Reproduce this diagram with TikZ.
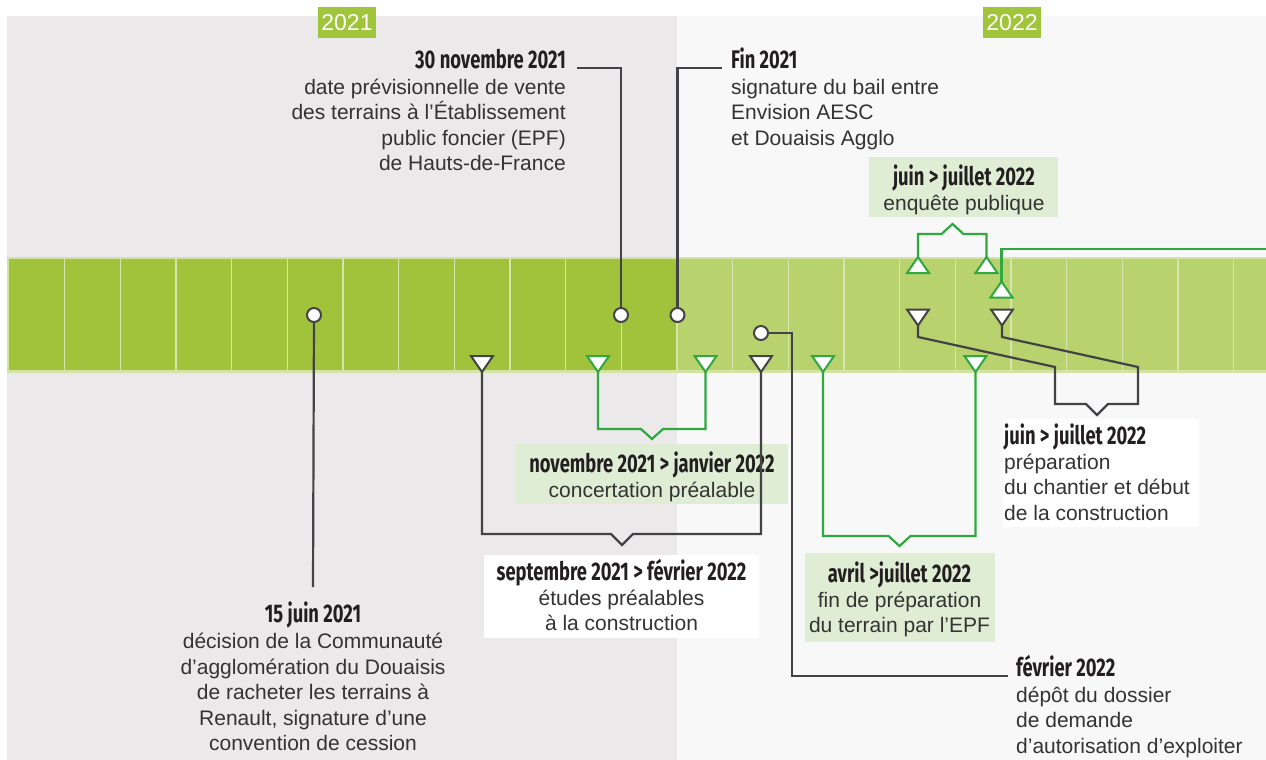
\documentclass[tikz,border=0pt]{standalone}
\usepackage{fontspec}
\setmainfont{Liberation Sans}
\newfontfamily\datefont{Fira Sans}[FakeStretch=0.72]
\usetikzlibrary{calc}

\definecolor{grayBg}{HTML}{EBE9EA}
\definecolor{lightBg}{HTML}{F8F8F8}
\definecolor{barEdge}{HTML}{D2E3A4}
\definecolor{barA}{HTML}{A0C33B}
\definecolor{barB}{HTML}{B8D26E}
\definecolor{sepCol}{HTML}{D6E6AA}
\definecolor{yearG}{HTML}{A0C43A}
\definecolor{lineD}{HTML}{434247}
\definecolor{lineG}{HTML}{2EA83F}
\definecolor{boxG}{HTML}{E0EDD5}
\definecolor{txtD}{HTML}{231F20}
\definecolor{txtB}{HTML}{333333}

\newcommand\fl{\rule{0pt}{20pt}}

\begin{document}
\begin{tikzpicture}[x=1pt,y=-1pt,
    dline/.style={draw=lineD, line width=2.2pt},
    gline/.style={draw=lineG, line width=2.2pt},
    dot/.style={circle, draw=lineD, line width=2pt, fill=white, minimum size=14pt, inner sep=0pt},
    sep/.style={draw=sepCol, line width=1.2pt},
    date/.style={font=\datefont\bfseries\fontsize{25.5}{26}\selectfont, text=txtD, inner sep=0pt},
    body/.style={font=\fontsize{21}{25.5}\selectfont, text=txtB, inner sep=0pt},
    year/.style={fill=yearG, text=white, font=\fontsize{23}{23}\selectfont, minimum width=58pt, minimum height=31pt, inner sep=0pt},
    gbox/.style={fill=boxG, inner sep=0pt},
    wbox/.style={fill=white, inner sep=0pt},
    tdown/.pic={\draw[draw=#1, line width=2pt, fill=white] (-11,-8) -- (11,-8) -- (0,8) -- cycle;},
    tup/.pic={\draw[draw=#1, line width=2pt, fill=white] (-11,8) -- (11,8) -- (0,-8) -- cycle;}]
    \useasboundingbox (0,0) rectangle (1266,760);
    % backgrounds of the two years
    \fill[white] (0,0) rectangle (1266,760);
    \fill[grayBg] (7,16) rectangle (677,760);
    \fill[lightBg] (677,16) rectangle (1266,760);
    \node[year] (y21) at (347,22.5) {2021};
    \node[year] (y22) at (1012,22.5) {2022};
    % the month bar
    \fill[barEdge] (7,257) rectangle (1266,373);
    \fill[barA] (9,259) rectangle (677,370);
    \fill[barB] (677,259) rectangle (1266,370);
    \foreach \i in {1,...,22}
        \draw[sep] (9+55.67*\i,259) -- (9+55.67*\i,370);
    \foreach \i in {3,6,9,15,18,21}
        \draw[sep, line width=2.6pt] (9+55.67*\i,259) -- (9+55.67*\i,370);

    % markers on the bar
    \node[dot] (c1) at (314,315) {};
    \node[dot] (c2) at (621,315) {};
    \node[dot] (c3) at (677.5,315) {};
    \node[dot] (c4) at (761,333) {};
    \coordinate (sd1) at (482,364);
    \coordinate (sd2) at (761,364);
    \coordinate (gd1) at (598,364);
    \coordinate (gd2) at (705.5,364);
    \coordinate (gd3) at (823,364);
    \coordinate (gd4) at (975.5,364);
    \coordinate (gu1) at (918,265);
    \coordinate (gu2) at (986.5,265);
    \coordinate (gu3) at (1001.5,289.5);
    \coordinate (dd1) at (918,317.5);
    \coordinate (dd2) at (1002,317.5);
    \coordinate (edge) at (1266,249);

    % label boxes
    \node[gbox, minimum width=272pt, minimum height=60pt] (bnov) at (652,474) {};
    \node[wbox, minimum width=275pt, minimum height=83pt] (bsep) at (621.5,596.5) {};
    \node[gbox, minimum width=190pt, minimum height=89pt] (bavr) at (900,597.5) {};
    \node[gbox, minimum width=189pt, minimum height=60pt] (benq) at (963.7,187) {};
    \node[wbox, minimum width=196pt, minimum height=108pt] (bjui) at (1101,473) {};

    % texts
    \node[date, anchor=base] (d1) at (313,622) {15 juin 2021};
    \node[body, anchor=north, align=center] (t1) at ($(d1.base)+(0,6.5)$) {\fl décision de la Communauté\\d’agglomération du Douaisis\\de racheter les terrains à\\Renault, signature d’une\\convention de cession};
    \node[date, anchor=base east] (d2) at (566,68) {30 novembre 2021};
    \node[body, anchor=north east, align=right] (t2) at ($(d2.base east)+(0,6)$) {\fl date prévisionnelle de vente\\des terrains à l’Établissement\\public foncier (EPF)\\de Hauts-de-France};
    \node[date, anchor=base west] (d3) at (731,68) {Fin 2021};
    \node[body, anchor=north west, align=left] (t3) at ($(d3.base west)+(0,6)$) {\fl signature du bail entre\\Envision AESC\\et Douaisis Agglo};
    \node[date, anchor=base] (d4) at (652,472) {novembre 2021 > janvier 2022};
    \node[body, anchor=north, align=center] (t4) at ($(d4.base)+(0,5)$) {\fl concertation préalable};
    \node[date, anchor=base] (d5) at (621.5,580) {septembre 2021 > février 2022};
    \node[body, anchor=north, align=center] (t5) at ($(d5.base)+(0,5)$) {\fl études préalables\\à la construction};
    \node[date, anchor=base] (d6) at (899.5,582) {avril >juillet 2022};
    \node[body, anchor=north, align=center] (t6) at ($(d6.base)+(0,5)$) {\fl fin de préparation\\du terrain par l’EPF};
    \node[date, anchor=base] (d7) at (964,185) {juin > juillet 2022};
    \node[body, anchor=north, align=center] (t7) at ($(d7.base)+(0,5)$) {\fl enquête publique};
    \node[date, anchor=base west] (d8) at (1004,444) {juin > juillet 2022};
    \node[body, anchor=north west, align=left] (t8) at ($(d8.base west)+(0,5)$) {\fl préparation\\du chantier et début\\de la construction};
    \node[date, anchor=base west] (d9) at (1016,676) {février 2022};
    \node[body, anchor=north west, align=left] (t9) at ($(d9.base west)+(0,6)$) {\fl dépôt du dossier\\de demande\\d’autorisation d’exploiter};

    % connectors
    \draw[dline] (c1) -- ($(d1.north)+(0,-14)$);
    \draw[dline] (c2) |- ($(d2.base east)+(11,0)$);
    \draw[dline] (c3) |- ($(d3.base west)+(-9,0)$);
    \draw[dline] (c4) -| (792,676) -- ($(d9.base west)+(-8,0)$);
    \coordinate (nsep) at (622,534);
    \draw[dline] (sd1) |- ($(nsep)+(-11,0)$) -- ++(11,11) -- ++(11,-11) -| (sd2);
    \coordinate (nnov) at (652,429);
    \draw[gline] (gd1) |- ($(nnov)+(-11,0)$) -- ++(11,10) -- ++(11,-10) -| (gd2);
    \coordinate (navr) at (899.5,536);
    \draw[gline] (gd3) |- ($(navr)+(-11,0)$) -- ++(11,10) -- ++(11,-10) -| (gd4);
    \coordinate (nenq) at (952.5,234);
    \draw[gline] (gu1) |- ($(nenq)+(-11,0)$) -- ++(11,-10) -- ++(11,10) -| (gu2);
    \draw[gline] (gu3) |- (edge);
    \coordinate (njui) at (1097,404);
    \draw[dline] (dd1) -- ++(0,19.5) -- (1055,367) |- ($(njui)+(-11,0)$) -- ++(11,11) -- ++(11,-11) -| (1138,367) -- (1002,337) -- (dd2);

    % triangles on top of the lines
    \foreach \p in {sd1,sd2,dd1,dd2} \path (\p) pic {tdown=lineD};
    \foreach \p in {gd1,gd2,gd3,gd4} \path (\p) pic {tdown=lineG};
    \foreach \p in {gu1,gu2,gu3} \path (\p) pic {tup=lineG};
\end{tikzpicture}
\end{document}
